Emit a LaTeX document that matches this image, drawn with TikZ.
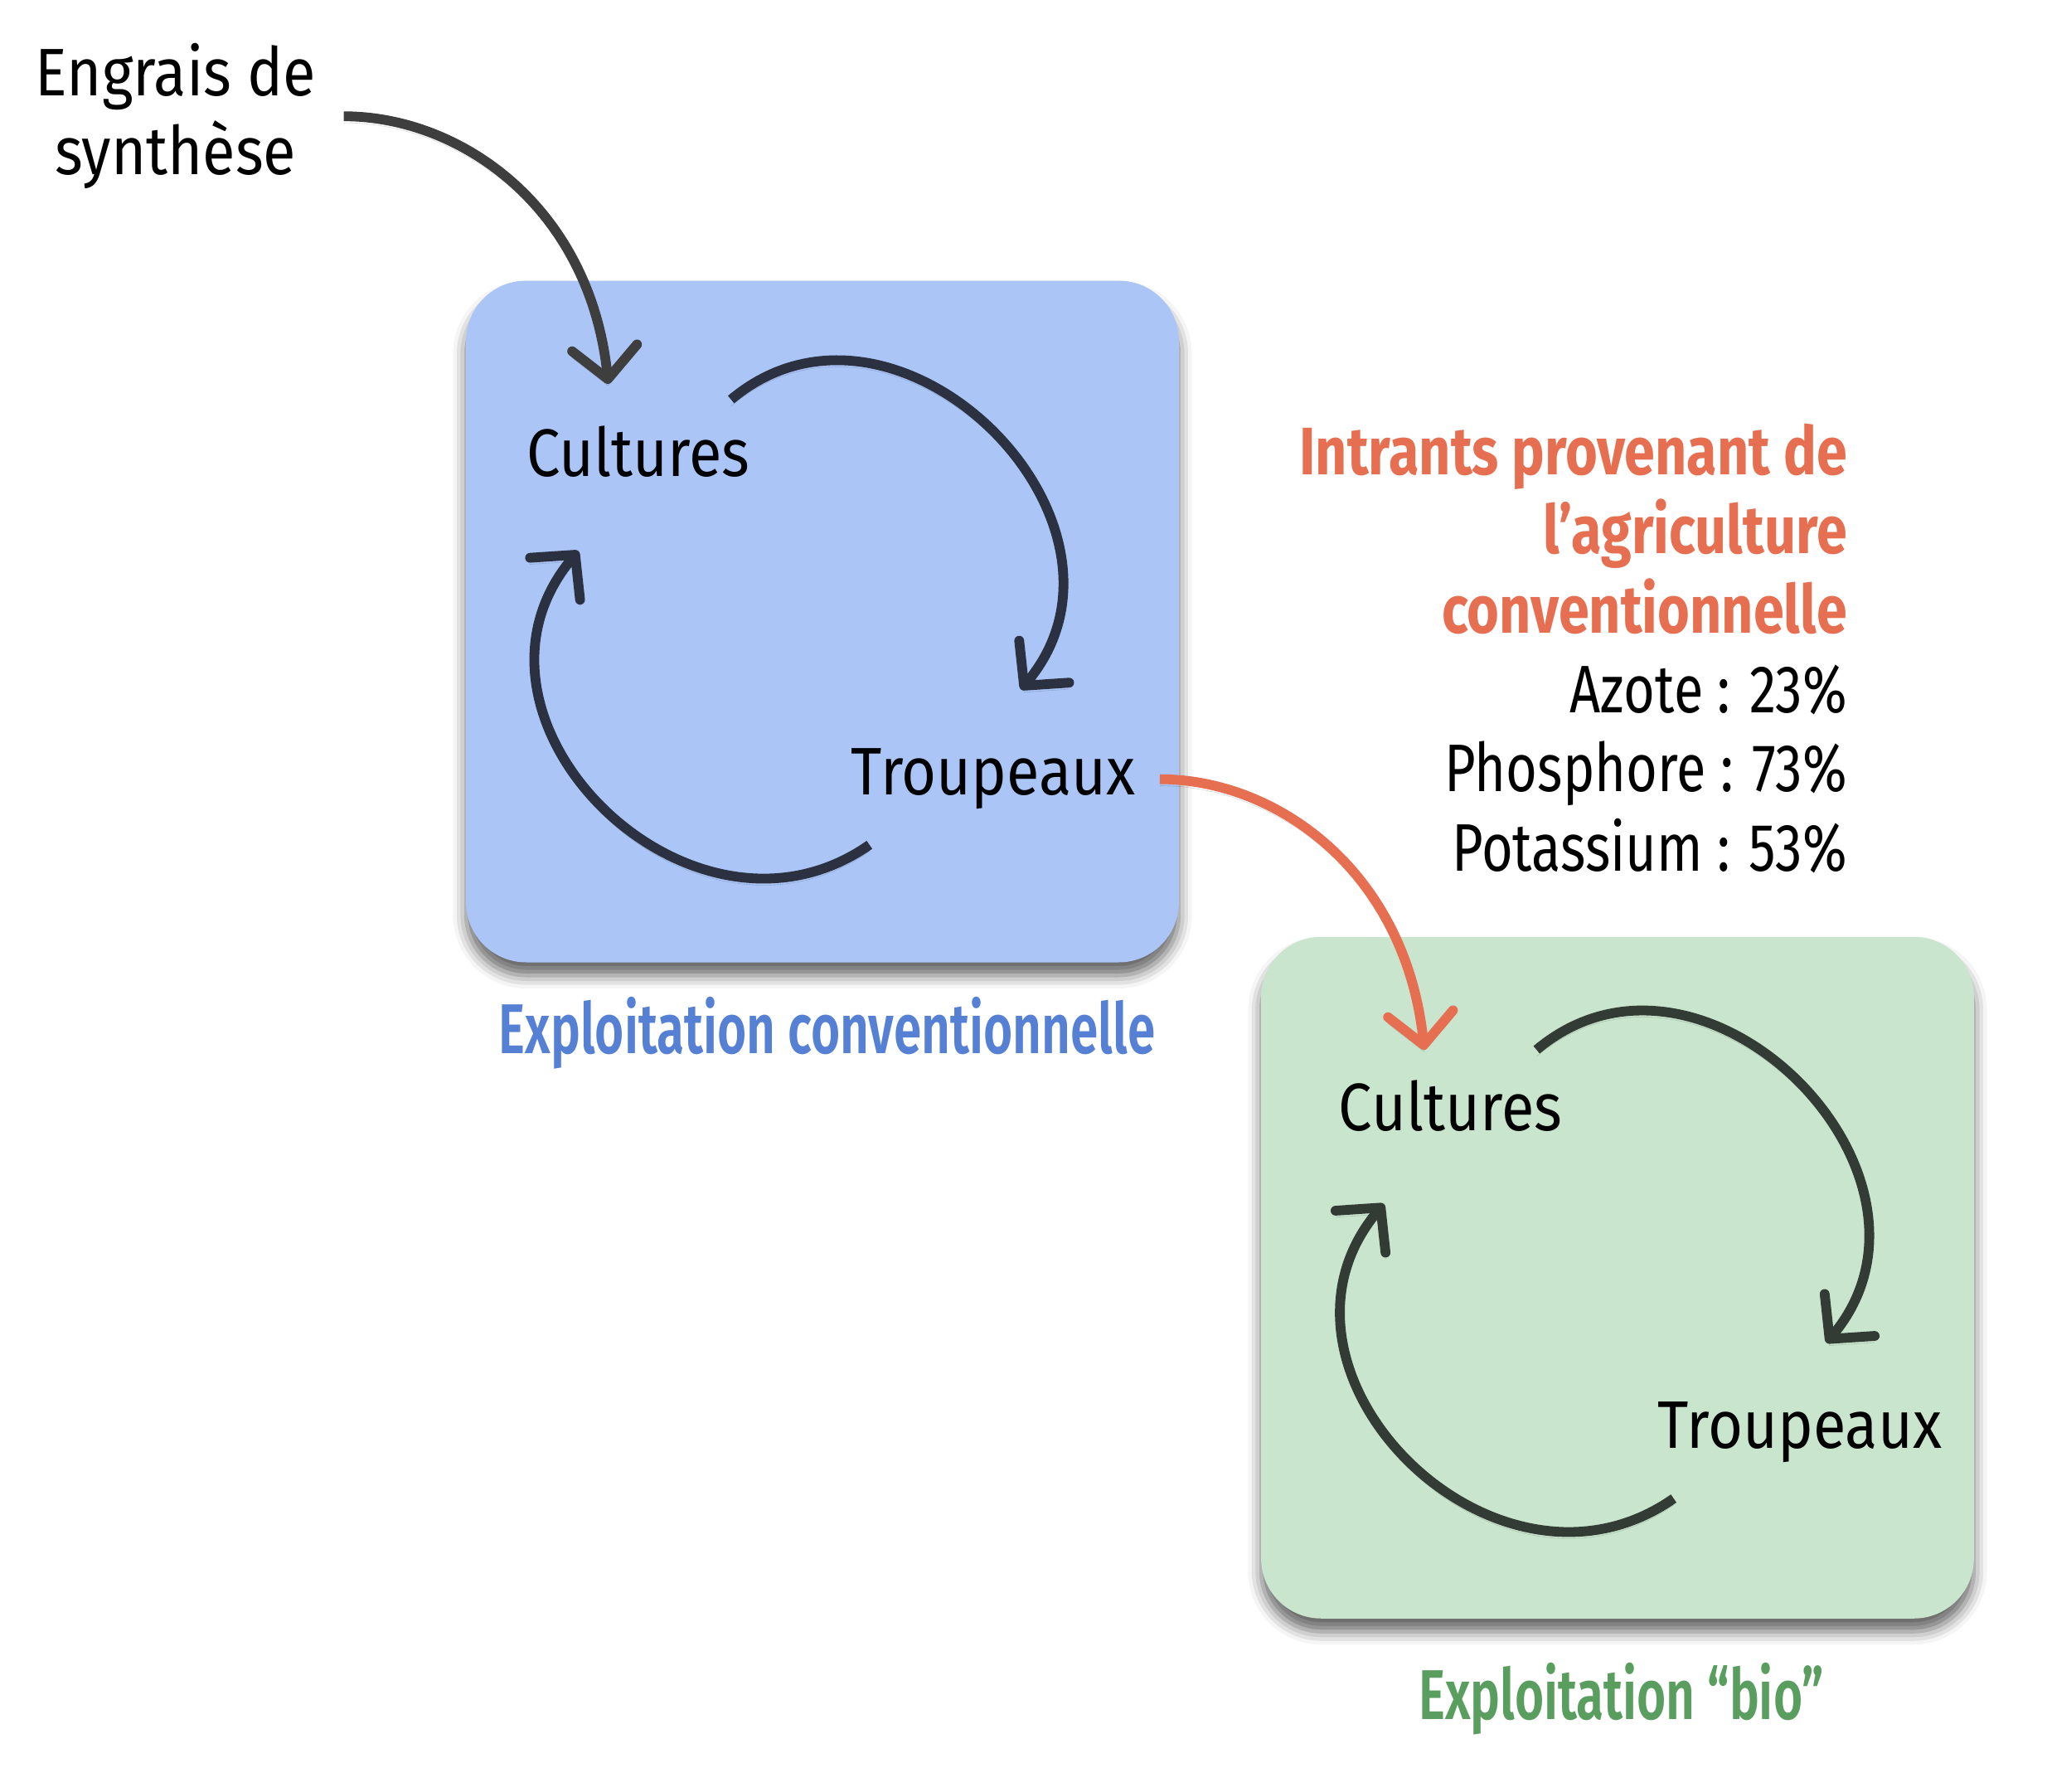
\documentclass[tikz,border=0pt]{standalone}
\usepackage{fontspec}
\setmainfont{Fira Sans}[FakeStretch=0.89]
\newfontfamily\listfont{Fira Sans}[FakeStretch=0.80]
\newfontfamily\intrantfont{Fira Sans}[FakeStretch=0.82]
\IfFontExistsTF{Fira Sans SemiBold}
  {\newfontfamily\tagfont{Fira Sans SemiBold}[FakeStretch=0.71]}
  {\newfontfamily\tagfont{Fira Sans}[FakeStretch=0.71,FakeBold=1.5]}
\usetikzlibrary{arrows.meta,shadows.blur}
\definecolor{convfill}{HTML}{AAC5F6}
\definecolor{biofill}{HTML}{C9E5CD}
\definecolor{convink}{HTML}{2B3141}
\definecolor{bioink}{HTML}{323B34}
\definecolor{convtext}{HTML}{5580D3}
\definecolor{biotext}{HTML}{5A9E5F}
\definecolor{intrant}{HTML}{E76F51}
\definecolor{engrink}{HTML}{3E3E3E}
\newcommand{\hot}[1]{{\intrantfont\bfseries\textcolor{intrant}{#1}}}
\tikzset{
    farm/.style={
           rectangle,
           rounded corners=46pt,
           minimum width=546pt,
           minimum height=522pt,
           inner sep=0pt,
           blur shadow={shadow xshift=0pt,shadow yshift=-10pt,
                        shadow blur radius=10pt,shadow opacity=60},
           },
    word/.style={font=\fontsize{51.5}{60.7}\selectfont,anchor=base},
    tag/.style={font=\tagfont\fontsize{54}{60}\selectfont,anchor=base},
}

\begin{document}
\begin{tikzpicture}[
  x=1pt,y=1pt,
  barb/.style={-{Straight Barb[length=24pt,width=50pt,round]}},
  lifted/.style={preaction={draw=black,opacity=.15,transform canvas={yshift=-5pt}}},
  loopline/.style={line width=7.5pt,barb,lifted}]
\useasboundingbox (0,0) rectangle (1568,-1372);
% the two farms
\node[farm,fill=convfill](conv) at (630,-476) {};
\node[farm,fill=biofill](bio) at (1239,-978.5) {};
\node[tag,text=convtext](convlabel) at (633.6,-807) {Exploitation conventionnelle};
\node[tag,text=biotext](biolabel) at (1242,-1317) {Exploitation “bio”};
% texts
\node[word,align=center](engrais) at (134.5,-134) {Engrais de\\synthèse};
\node[word](cult1) at (489,-365) {Cultures};
\node[word](troup1) at (761,-609) {Troupeaux};
\node[word](cult2) at (1111,-866) {Cultures};
\node[word](troup2) at (1378.5,-1109) {Troupeaux};
\node[word,anchor=base east,align=right,inner sep=0pt](intrants) at (1415,-667) {%
  \hot{Intrants provenant de}\\ \hot{l’agriculture}\\ \hot{conventionnelle}\\
  {\listfont Azote : 23\%}\\ {\listfont Phosphore : 73\%}\\ {\listfont Potassium : 53\%}};

% cycles inside the farms
\draw[loopline,convink] ([shift={(71,59)}]cult1.base) to[out=40,in=50,looseness=1.35] ([shift={(21,81)}]troup1.base);
\draw[loopline,convink] ([shift={(-95,-38)}]troup1.base) to[out=215,in=230,looseness=1.35] ([shift={(-46,-57)}]cult1.base);
\draw[loopline,bioink] ([shift={(66,62)}]cult2.base) to[out=40,in=50,looseness=1.35] ([shift={(20.5,80.7)}]troup2.base);
\draw[loopline,bioink] ([shift={(-96.5,-38.6)}]troup2.base) to[out=215,in=230,looseness=1.35] ([shift={(-51,-56)}]cult2.base);

% inputs
\draw[lifted,engrink,line width=7.5pt,barb] ([xshift=18pt]engrais.east) to[out=0,in=96,out looseness=0.8,in looseness=1.2] ([shift={(-23,71)}]cult1.base);
\draw[lifted,intrant,line width=7.5pt,barb] ([xshift=15pt]troup1.east) to[out=0,in=96,out looseness=0.8,in looseness=1.2] ([shift={(-20,62)}]cult2.base);
\end{tikzpicture}
\end{document}
